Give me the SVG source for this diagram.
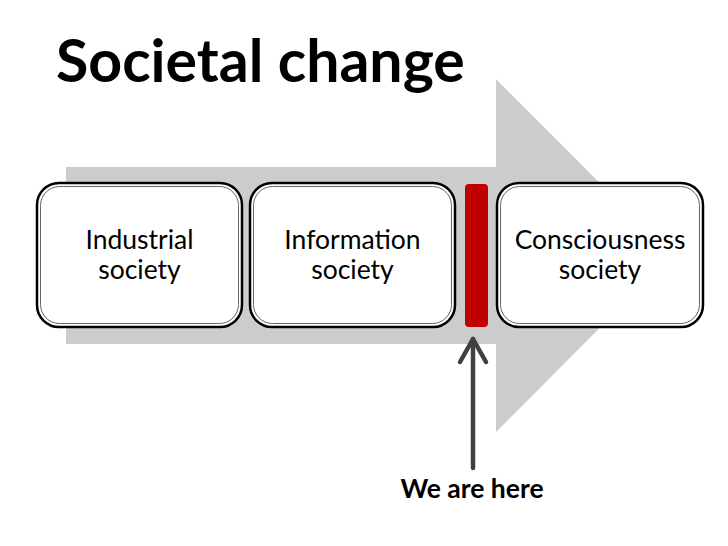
<svg xmlns="http://www.w3.org/2000/svg" width="728" height="546" viewBox="0 0 728 546">
<style>
.box-o{fill:#fff;stroke:#000;stroke-width:2.5}
.box-i{fill:none;stroke:#666;stroke-width:1}
.lbl{font-family:Lato,"Open Sans",sans-serif;font-size:26.5px;fill:#000;text-anchor:middle}
.title{font-family:Lato,"Open Sans",sans-serif;font-size:59px;font-weight:bold;fill:#000}
.here{font-family:Lato,"Open Sans",sans-serif;font-size:26.5px;font-weight:bold;fill:#000;text-anchor:middle}
</style>
<rect width="728" height="546" fill="#fff"/>
<g id="title"><text class="title" x="56" y="82">Societal change</text></g>
<g id="big-arrow"><path d="M66 167 H496 V79 L672 255.5 L496 432 V344 H66 Z" fill="#cccccc"/></g>
<g id="industrial">
<rect class="box-o" x="37" y="183" width="205" height="144" rx="22"/>
<rect class="box-i" x="40.5" y="186.5" width="198" height="137" rx="19"/>
<text class="lbl" x="139.5" y="249">Industrial</text>
<text class="lbl" x="139.5" y="279">society</text>
</g>
<g id="information">
<rect class="box-o" x="250" y="183" width="205" height="144" rx="22"/>
<rect class="box-i" x="253.5" y="186.5" width="198" height="137" rx="19"/>
<text class="lbl" x="352.5" y="249">Information</text>
<text class="lbl" x="352.5" y="279">society</text>
</g>
<g id="marker-bar"><rect x="465" y="184" width="23" height="143" rx="4" fill="#c00000"/></g>
<g id="consciousness">
<rect class="box-o" x="497" y="183" width="206" height="144" rx="22"/>
<rect class="box-i" x="500.5" y="186.5" width="199" height="137" rx="19"/>
<text class="lbl" x="600" y="249">Consciousness</text>
<text class="lbl" x="600" y="279">society</text>
</g>
<g id="connectors">
<line x1="473" y1="339" x2="473" y2="468" stroke="#404040" stroke-width="4.5" stroke-linecap="round"/>
<polyline points="460,362 473,339 486,362" fill="none" stroke="#404040" stroke-width="4.5" stroke-linecap="round" stroke-linejoin="round"/>
</g>
<g id="we-are-here"><text class="here" x="472" y="498">We are here</text></g>
</svg>
